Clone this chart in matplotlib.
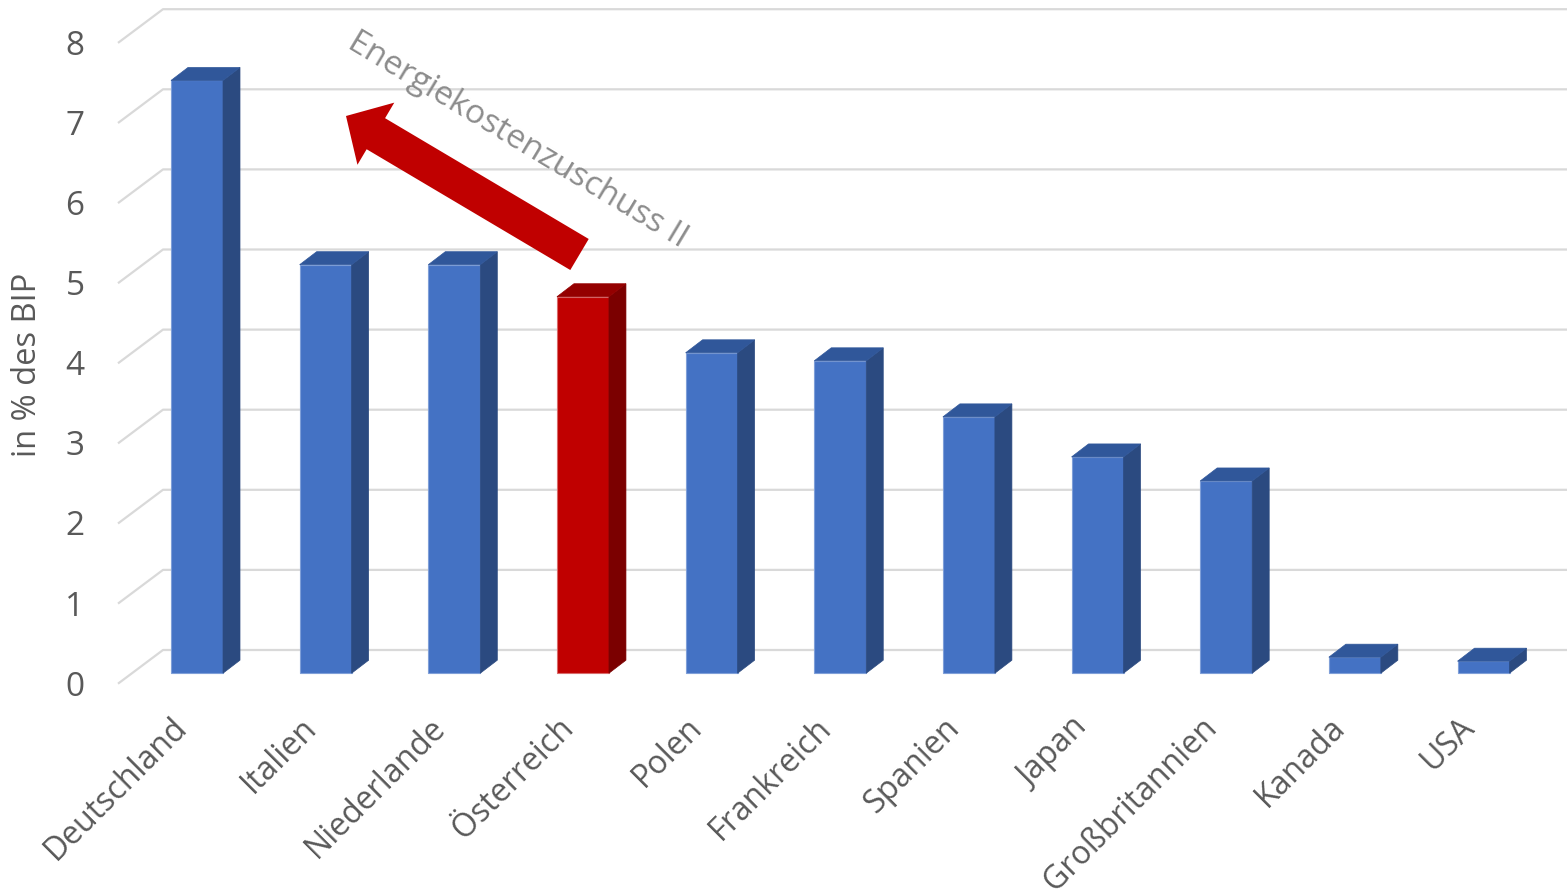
import matplotlib
matplotlib.use("Agg")
import matplotlib.pyplot as plt
from matplotlib.patches import Polygon

# ---- data ----
categories = ["Deutschland", "Italien", "Niederlande", "Österreich", "Polen",
              "Frankreich", "Spanien", "Japan", "Großbritannien", "Kanada", "USA"]
values = [7.4, 5.1, 5.1, 4.7, 4.0, 3.9, 3.2, 2.7, 2.4, 0.2, 0.15]
highlight = "Österreich"
yticks = [0, 1, 2, 3, 4, 5, 6, 7, 8]
ylabel = "in % des BIP"
annotation_text = "Energiekostenzuschuss II"

# ---- styling / geometry (pixel based layout) ----
W, H = 1567, 895
PX_X = 128.65          # pixels per category
PX_Y = 80.1            # pixels per value unit
X0 = 197               # pixel x of first category centre
Y0 = 684.7             # pixel y of value 0 on the front plane

plt.rcParams['font.family'] = ['Open Sans', 'DejaVu Sans']
fig = plt.figure(figsize=(W / 100, H / 100), dpi=100)
ax = fig.add_axes([0, 0, 1, 1])
ax.set_xlim(-X0 / PX_X, (W - X0) / PX_X)
ax.set_ylim((Y0 - H) / PX_Y, Y0 / PX_Y)
ax.axis("off")

# wall depth (oblique projection)
DX = 45 / PX_X
DY = 33.7 / PX_Y
front_left = (118 - X0) / PX_X
xmax = (W - X0) / PX_X + 0.1
grid_color = "#D9D9D9"
for v in yticks:
    ax.plot([front_left, front_left + DX, xmax], [v, v + DY, v + DY],
            color=grid_color, lw=1.6, zorder=1, solid_capstyle="butt")
    ax.text((75 - X0) / PX_X, v - 0.03, str(v), ha="center", va="center",
            fontsize=24, color="#595959")

# bars
half_w = 26 / PX_X
bdx = 17 / PX_X
bdy = 13 / PX_Y
base = 10.5 / PX_Y
blue = ("#4472C4", "#2B4A80", "#30579A", "#7F9FD8")
red = ("#C00000", "#7B0000", "#940000", "#D96B6B")
for i, (cat, v) in enumerate(zip(categories, values)):
    front, side, top, edge = red if cat == highlight else blue
    x1, x2 = i - half_w, i + half_w
    y1, y2 = base, base + v
    ax.add_patch(Polygon([(x1, y1), (x2, y1), (x2, y2), (x1, y2)], closed=True,
                         facecolor=front, edgecolor=edge, lw=0.8, zorder=3))
    ax.add_patch(Polygon([(x2, y1), (x2 + bdx, y1 + bdy), (x2 + bdx, y2 + bdy), (x2, y2)],
                         closed=True, facecolor=side, edgecolor=side, lw=0.5, zorder=3))
    ax.add_patch(Polygon([(x1, y2), (x2, y2), (x2 + bdx, y2 + bdy), (x1 + bdx, y2 + bdy)],
                         closed=True, facecolor=top, edgecolor=top, lw=0.5, zorder=3))
    ax.text(i - 0.2, -0.33, cat, rotation=45, rotation_mode="anchor",
            ha="right", va="top", fontsize=23, color="#595959")

# y label
ax.text((28 - X0) / PX_X, (Y0 - 365) / PX_Y, ylabel, rotation=90,
        ha="center", va="center", fontsize=23.5, color="#595959")

# arrow
tip = ((346 - X0) / PX_X, (Y0 - 117) / PX_Y)
tail = ((579.5 - X0) / PX_X, (Y0 - 255.5) / PX_Y)
ax.annotate("", xy=tip, xytext=tail,
            arrowprops=dict(arrowstyle="simple,head_length=25,head_width=52,tail_width=26",
                            mutation_scale=1, facecolor="#C00000", edgecolor="none",
                            shrinkA=0, shrinkB=0), zorder=4)

# annotation text
ax.text((518 - X0) / PX_X, (Y0 - 140) / PX_Y, annotation_text, rotation=-31,
        rotation_mode="anchor", ha="center", va="center",
        fontsize=24, color="#8C8C8C", zorder=5)

fig.savefig("out.png", dpi=100)
